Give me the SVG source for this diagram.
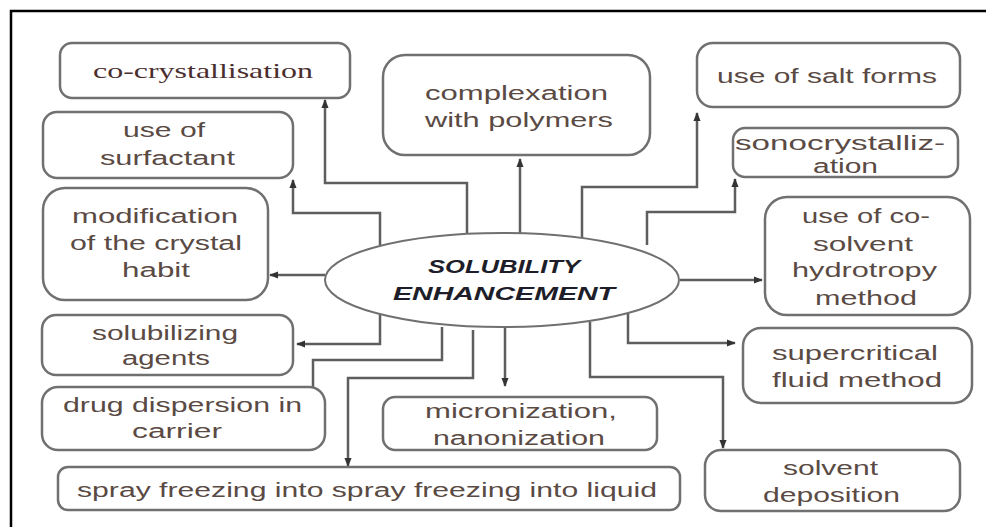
<svg xmlns="http://www.w3.org/2000/svg" width="986" height="527" viewBox="0 0 986 527">
<defs>
<marker id="ah" viewBox="0 0 10 10" refX="9" refY="5" markerWidth="9" markerHeight="9" markerUnits="userSpaceOnUse" orient="auto">
<path d="M0,1 L10,5 L0,9 Z" fill="#333"/>
</marker>
</defs>
<style>
.box{fill:#fff;stroke:#707070;stroke-width:2.5}
.t{font-family:"Liberation Sans","Open Sans",sans-serif;font-size:20px;fill:#5a4a44;text-anchor:start}
.s{font-family:"Liberation Serif",serif;font-size:21px;fill:#4a2e2e}
.c{fill:none;stroke:#5e5e5e;stroke-width:2.5}
.ca{fill:none;stroke:#5e5e5e;stroke-width:2.5;marker-end:url(#ah)}
.h{font-family:"Liberation Sans","Open Sans",sans-serif;font-size:19px;font-weight:bold;font-style:italic;fill:#1e1e2a}
</style>
<rect width="986" height="527" fill="#fff"/>
<path d="M11,527 L11,11 L986,11" fill="none" stroke="#000" stroke-width="2.5"/>

<g id="connectors">
<path class="ca" d="M380,245 L380,213 L293,213 L293,180"/>
<path class="ca" d="M467,234 L467,183 L325,183 L325,100"/>
<path class="ca" d="M520,233 L520,159"/>
<path class="ca" d="M582,239 L582,187 L697,187 L697,113"/>
<path class="ca" d="M647,245 L647,212 L735,212 L735,179"/>
<path class="ca" d="M325,275 L270,275"/>
<path class="ca" d="M680,280 L762,280"/>
<path class="ca" d="M380,314 L380,344 L297,344"/>
<path class="c" d="M442,327 L442,360 L313,360 L313,387"/>
<path class="ca" d="M473,330 L473,378 L348,378 L348,466"/>
<path class="ca" d="M505,327 L505,386"/>
<path class="ca" d="M590,322 L590,377 L723,377 L723,448"/>
<path class="ca" d="M628,313 L628,343 L735,343"/>
</g>

<g id="center">
<ellipse cx="502" cy="280" rx="177" ry="47" fill="#fff" stroke="#707070" stroke-width="2"/>
<text class="h" x="428" y="273" textLength="152" lengthAdjust="spacingAndGlyphs">SOLUBILITY</text>
<text class="h" x="393" y="300" textLength="222" lengthAdjust="spacingAndGlyphs">ENHANCEMENT</text>
</g>

<g id="co-crystallisation">
<rect class="box" x="60" y="43" width="290" height="55" rx="12"/>
<text class="s" x="93" y="78" textLength="220" lengthAdjust="spacingAndGlyphs">co-crystallisation</text>
</g>

<g id="surfactant">
<rect class="box" x="43" y="112" width="250" height="66" rx="14"/>
<text class="t" x="123" y="137" textLength="82" lengthAdjust="spacingAndGlyphs">use of</text>
<text class="t" x="100" y="165" textLength="135" lengthAdjust="spacingAndGlyphs">surfactant</text>
</g>

<g id="crystal-habit">
<rect class="box" x="43" y="188" width="225" height="112" rx="22"/>
<text class="t" x="72" y="223" textLength="166" lengthAdjust="spacingAndGlyphs">modification</text>
<text class="t" x="70" y="250" textLength="172" lengthAdjust="spacingAndGlyphs">of the crystal</text>
<text class="t" x="122" y="277" textLength="68" lengthAdjust="spacingAndGlyphs">habit</text>
</g>

<g id="complexation">
<rect class="box" x="383" y="55" width="267" height="100" rx="22"/>
<text class="t" x="425" y="100" textLength="183" lengthAdjust="spacingAndGlyphs">complexation</text>
<text class="t" x="425" y="127" textLength="188" lengthAdjust="spacingAndGlyphs">with polymers</text>
</g>

<g id="salt-forms">
<rect class="box" x="697" y="43" width="263" height="64" rx="16"/>
<text class="t" x="717" y="83" textLength="220" lengthAdjust="spacingAndGlyphs">use of salt forms</text>
</g>

<g id="sonocrystallization">
<rect class="box" x="733" y="128" width="225" height="49" rx="12"/>
<text class="t" x="735" y="150" textLength="210" lengthAdjust="spacingAndGlyphs">sonocrystalliz-</text>
<text class="t" x="813" y="173" textLength="65" lengthAdjust="spacingAndGlyphs">ation</text>
</g>

<g id="co-solvent">
<rect class="box" x="765" y="197" width="205" height="118" rx="22"/>
<text class="t" x="802" y="223" textLength="128" lengthAdjust="spacingAndGlyphs">use of co-</text>
<text class="t" x="813" y="251" textLength="100" lengthAdjust="spacingAndGlyphs">solvent</text>
<text class="t" x="792" y="277" textLength="145" lengthAdjust="spacingAndGlyphs">hydrotropy</text>
<text class="t" x="815" y="305" textLength="102" lengthAdjust="spacingAndGlyphs">method</text>
</g>

<g id="supercritical">
<rect class="box" x="743" y="328" width="229" height="75" rx="18"/>
<text class="t" x="772" y="360" textLength="166" lengthAdjust="spacingAndGlyphs">supercritical</text>
<text class="t" x="772" y="387" textLength="170" lengthAdjust="spacingAndGlyphs">fluid method</text>
</g>

<g id="solvent-deposition">
<rect class="box" x="705" y="450" width="255" height="61" rx="16"/>
<text class="t" x="783" y="475" textLength="95" lengthAdjust="spacingAndGlyphs">solvent</text>
<text class="t" x="763" y="502" textLength="137" lengthAdjust="spacingAndGlyphs">deposition</text>
</g>

<g id="solubilizing">
<rect class="box" x="42" y="315" width="251" height="60" rx="14"/>
<text class="t" x="92" y="340" textLength="146" lengthAdjust="spacingAndGlyphs">solubilizing</text>
<text class="t" x="122" y="365" textLength="88" lengthAdjust="spacingAndGlyphs">agents</text>
</g>

<g id="drug-dispersion">
<rect class="box" x="42" y="387" width="283" height="63" rx="16"/>
<text class="t" x="63" y="412" textLength="239" lengthAdjust="spacingAndGlyphs">drug dispersion in</text>
<text class="t" x="132" y="438" textLength="90" lengthAdjust="spacingAndGlyphs">carrier</text>
</g>

<g id="micronization">
<rect class="box" x="383" y="397" width="274" height="53" rx="12"/>
<text class="t" x="425" y="418" textLength="192" lengthAdjust="spacingAndGlyphs">micronization,</text>
<text class="t" x="433" y="445" textLength="172" lengthAdjust="spacingAndGlyphs">nanonization</text>
</g>

<g id="spray-freezing">
<rect class="box" x="58" y="467" width="622" height="43" rx="10"/>
<text class="t" x="77" y="497" textLength="580" lengthAdjust="spacingAndGlyphs">spray freezing into spray freezing into liquid</text>
</g>
</svg>
